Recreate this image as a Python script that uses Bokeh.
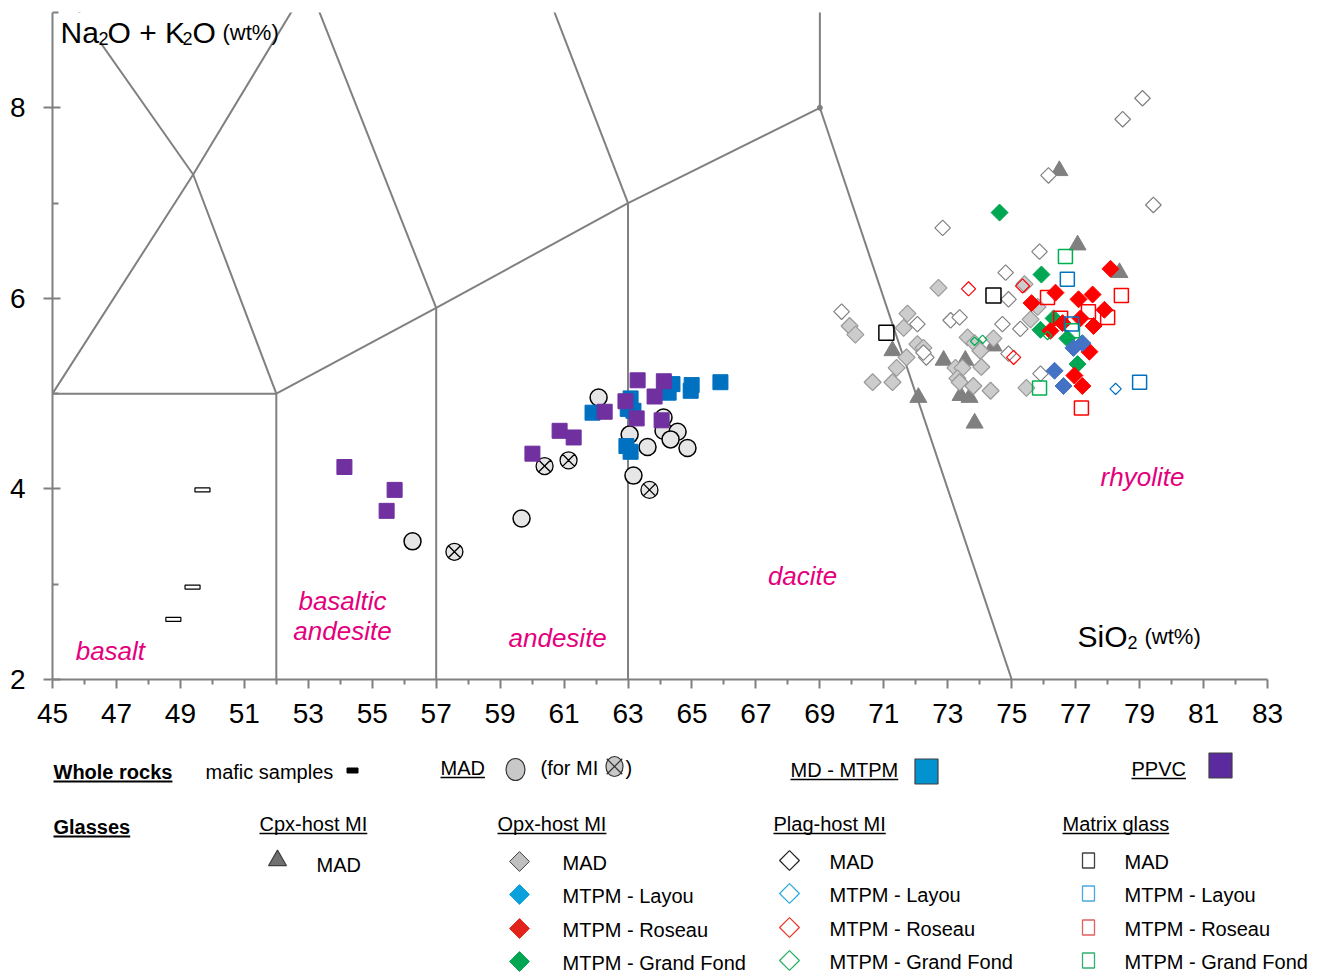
import math
from bokeh.plotting import figure
from bokeh.models import Range1d, FixedTicker
from bokeh.layouts import column
from bokeh.embed import file_html
from bokeh.resources import INLINE
from bokeh.core.properties import value

FONT = "Liberation Sans"
PINK = "#E4007C"
LINE = "#808080"

# ------------------------------------------------------------------ data
x_ticks = list(range(45, 84, 2))
x_minor = list(range(46, 83, 2))
y_ticks = [2, 4, 6, 8]
y_minor = [3, 5, 7, 9]

# TAS field boundaries (SiO2 wt%, Na2O+K2O wt%)
tas_xs = [[45, 52], [52, 52], [52, 57], [57, 57], [57, 63], [63, 63], [63, 69],
          [69, 77], [69, 69], [45, 49.4, 53], [52, 49.4, 45], [57, 53], [63, 57.6]]
tas_ys = [[5, 5], [0, 5], [5, 5.9], [0, 5.9], [5.9, 7], [0, 7], [7, 8],
          [8, 0], [8, 13], [5, 7.3, 9.3], [5, 7.3, 9.4], [5.9, 9.3], [7, 11.7]]

field_names = ["basalt", "basaltic", "andesite", "andesite", "dacite", "rhyolite"]
field_x = [46.81, 54.07, 54.07, 60.80, 68.46, 79.09]
field_y = [2.30, 2.82, 2.51, 2.44, 3.09, 4.12]

# Whole rocks
mafic_x = [49.69, 49.38, 48.78]
mafic_y = [3.99, 2.97, 2.63]

mad_x = [62.08, 63.05, 63.61, 64.11, 64.11, 64.55, 64.33, 64.86, 63.17, 59.67, 56.26]
mad_y = [4.96, 4.57, 4.44, 4.75, 4.61, 4.60, 4.52, 4.43, 4.14, 3.69, 3.45]

madmi_x = [60.39, 61.14, 63.67, 57.57]
madmi_y = [4.24, 4.30, 3.99, 3.34]

mtpm_x = [65.89, 64.96, 64.99, 64.39, 64.27, 63.08, 62.99, 63.17, 61.89, 62.95, 63.08]
mtpm_y = [5.12, 5.03, 5.09, 5.10, 5.01, 4.95, 4.84, 4.82, 4.80, 4.45, 4.39]

ppvc_x = [54.13, 55.70, 55.45, 60.01, 60.86, 61.30, 62.27, 63.30, 63.27, 63.83, 64.12, 64.05, 62.92]
ppvc_y = [4.23, 3.99, 3.77, 4.37, 4.61, 4.54, 4.81, 5.14, 4.74, 4.97, 5.13, 4.72, 4.92]

# Glasses
cpx_mad_x = [71.27, 72.08, 72.87, 73.55, 73.40, 73.68, 73.84, 74.43, 76.49, 77.06, 78.37]
cpx_mad_y = [5.45, 4.96, 5.35, 5.35, 4.98, 4.96, 4.69, 5.50, 7.34, 6.56, 6.27]

opx_mad_x = [72.71, 69.93, 70.11, 71.74, 71.62, 72.05, 72.24, 71.71, 71.40, 70.65, 71.27, 73.62, 73.84,
             74.02, 74.43, 74.05, 73.24, 73.46, 73.30, 73.37, 73.80, 74.34, 75.40, 75.59, 75.46, 75.81]
opx_mad_y = [6.11, 5.71, 5.62, 5.84, 5.69, 5.52, 5.48, 5.38, 5.27, 5.12, 5.12, 5.59, 5.53,
             5.45, 5.58, 5.28, 5.27, 5.27, 5.16, 5.12, 5.08, 5.03, 6.15, 5.78, 5.06, 5.91]

opx_lay_x = [76.34, 76.62, 77.21, 76.93]
opx_lay_y = [5.24, 5.08, 5.53, 5.48]
opx_ros_x = [75.62, 76.37, 77.09, 77.53, 77.90, 78.09, 77.15, 77.56, 76.21, 77.43, 76.96, 77.21, 76.59]
opx_ros_y = [5.95, 6.06, 5.99, 6.04, 5.88, 6.31, 5.79, 5.71, 5.66, 5.44, 5.19, 5.08, 5.74]
opx_gf_x = [74.62, 75.93, 75.90, 77.06, 76.31, 76.74]
opx_gf_y = [6.90, 6.25, 5.67, 5.31, 5.79, 5.58]

plag_mad_x = [69.68, 72.05, 72.33, 72.24, 73.09, 73.37, 72.84, 74.81, 74.90, 74.71, 75.27, 74.90,
              76.15, 79.43, 75.87, 75.90, 79.09, 78.47]
plag_mad_y = [5.86, 5.73, 5.38, 5.43, 5.77, 5.80, 6.74, 6.27, 5.99, 5.73, 5.68, 5.42,
              7.29, 6.98, 6.49, 5.21, 8.10, 7.88]
plag_lay_x = [78.25]
plag_lay_y = [5.05]
plag_ros_x = [73.65, 75.34, 75.06]
plag_ros_y = [6.10, 6.13, 5.38]
plag_gf_x = [73.84, 74.09, 76.12]
plag_gf_y = [5.55, 5.57, 5.61]

mg_mad_x = [71.08, 74.43]
mg_mad_y = [5.64, 6.03]
mg_lay_x = [76.74, 79.00, 76.87]
mg_lay_y = [6.20, 5.12, 5.73]
mg_ros_x = [78.43, 76.12, 77.40, 78.00, 76.53, 77.18]
mg_ros_y = [6.03, 6.01, 5.86, 5.80, 5.79, 4.85]
mg_gf_x = [76.68, 75.87, 76.90]
mg_gf_y = [6.44, 5.06, 5.66]

# ------------------------------------------------------------------ main plot
FL, FT, FW, FH = 52, 12, 1215, 667   # frame position on the page (px)
XMIN, XMAX, YMIN, YMAX = 45, 83, 2, 9
PAGE_W = 1322
TOP = 735  # page y where the legend panel starts


def X(px):
    return XMIN + (px - FL) * (XMAX - XMIN) / FW


def Y(py):
    return YMAX - (py - FT) * (YMAX - YMIN) / FH


p = figure(frame_width=FW, frame_height=FH,
           x_range=Range1d(XMIN, XMAX), y_range=Range1d(YMIN, YMAX),
           output_backend="svg", toolbar_location=None,
           min_border_left=FL, min_border_right=PAGE_W - FL - FW, min_border_top=FT,
           min_border_bottom=TOP - FT - FH)
p.grid.visible = False
p.outline_line_color = None
p.background_fill_color = "white"
p.border_fill_color = "white"

p.xaxis.ticker = FixedTicker(ticks=x_ticks, minor_ticks=x_minor)
p.yaxis.ticker = FixedTicker(ticks=y_ticks, minor_ticks=y_minor)
for ax in (p.xaxis[0], p.yaxis[0]):
    ax.axis_line_color = LINE
    ax.axis_line_width = 2
    ax.major_tick_line_color = LINE
    ax.major_tick_line_width = 2
    ax.minor_tick_line_color = LINE
    ax.minor_tick_line_width = 2
    ax.major_label_text_font = FONT
    ax.major_label_text_font_size = "28px"
    ax.major_label_text_color = "black"
p.xaxis.major_tick_out = 9
p.xaxis.major_tick_in = 0
p.xaxis.minor_tick_out = 5
p.xaxis.minor_tick_in = 0
p.xaxis.major_label_standoff = 15
p.yaxis.major_tick_out = 9
p.yaxis.major_tick_in = 8
p.yaxis.minor_tick_out = 0
p.yaxis.minor_tick_in = 6
p.yaxis.major_label_standoff = 18

# TAS boundaries
p.multi_line(tas_xs, tas_ys, line_color=LINE, line_width=2)
p.scatter([69], [8], size=5, marker="circle", fill_color=LINE, line_color=LINE)

# white box behind the y title
p.quad(left=X(55), right=X(270), top=Y(12), bottom=Y(42), fill_color="white", line_color=None)


def txt(s, px, py, size, style="normal", color="black", align="left", baseline="alphabetic"):
    p.text([X(px)], [Y(py)], text=[s], text_font=value(FONT), text_font_size=size,
           text_font_style=style, text_color=color, text_align=align, text_baseline=baseline)


# y title: Na2O + K2O (wt%)
txt("Na", 60, 32, "30px")
txt("2", 98, 38, "18px")
txt("O + K", 107, 32, "30px")
txt("2", 182, 38, "18px")
txt("O", 192, 32, "30px")
txt("(wt%)", 222, 32, "22px")
# x title: SiO2 (wt%)
txt("SiO", 1077, 636, "30px")
txt("2", 1127, 642, "18px")
txt("(wt%)", 1144, 636, "22px")

# field names
p.text(field_x, field_y, text=field_names, text_font=value(FONT), text_font_size="26px",
       text_font_style="italic", text_color=PINK, text_align="center", text_baseline="middle")

# whole rocks
p.rect(mafic_x, mafic_y, width=15, height=4, width_units="screen", height_units="screen",
       fill_color="white", line_color="black", line_width=1.2)
p.scatter(mad_x, mad_y, marker="circle", size=17, fill_color="#E6E6E6", line_color="black", line_width=1.5)
p.scatter(madmi_x, madmi_y, marker="circle_x", size=17, fill_color="#E6E6E6", line_color="black", line_width=1.3)
p.scatter(mtpm_x, mtpm_y, marker="square", size=15, fill_color="#0070C0", line_color="#0070C0")
p.scatter(ppvc_x, ppvc_y, marker="square", size=15, fill_color="#7030A0", line_color="#7030A0")

# glasses
D = math.pi / 4
p.scatter(cpx_mad_x, cpx_mad_y, marker="triangle", size=17, fill_color="#808080", line_color="#808080")
p.scatter(opx_mad_x, opx_mad_y, marker="square", angle=D, size=12, fill_color="#CCCCCC",
          line_color="#999999", line_width=1.2)
p.scatter(plag_mad_x, plag_mad_y, marker="square", angle=D, size=11, fill_color="white",
          line_color="#808080", line_width=1.2)
p.scatter(mg_mad_x, mg_mad_y, marker="square", size=15, fill_color=None, line_color="black", line_width=1.5)
p.scatter(opx_gf_x, opx_gf_y, marker="square", angle=D, size=12, fill_color="#00A651", line_color="#00A651")
p.scatter(opx_ros_x, opx_ros_y, marker="square", angle=D, size=12, fill_color="#FF0000", line_color="#FF0000")
p.scatter(opx_lay_x, opx_lay_y, marker="square", angle=D, size=12, fill_color="#4472C4", line_color="#4472C4")
p.scatter(plag_ros_x, plag_ros_y, marker="square", angle=D, size=10, fill_color=None, line_color="#FF0000", line_width=1.2)
p.scatter(plag_gf_x, plag_gf_y, marker="square", angle=D, size=6, fill_color=None, line_color="#00B050", line_width=1.2)
p.scatter(plag_lay_x, plag_lay_y, marker="square", angle=D, size=8, fill_color=None, line_color="#0070C0", line_width=1.2)
p.scatter(mg_ros_x, mg_ros_y, marker="square", size=14, fill_color=None, line_color="#FF0000", line_width=1.5)
p.scatter(mg_gf_x, mg_gf_y, marker="square", size=14, fill_color=None, line_color="#00B050", line_width=1.5)
p.scatter(mg_lay_x, mg_lay_y, marker="square", size=14, fill_color=None, line_color="#0070C0", line_width=1.5)

# ------------------------------------------------------------------ legend panel
# its frame is aligned with the main frame's left edge (x = FL) by the column layout;
# the x range is expressed in page pixels.
LH = 973 - TOP
q = figure(frame_width=PAGE_W - FL, frame_height=LH, x_range=Range1d(FL, PAGE_W), y_range=Range1d(LH, 0),
           output_backend="svg", toolbar_location=None, x_axis_location=None, y_axis_location=None,
           min_border_left=FL, min_border_right=0, min_border_top=0, min_border_bottom=0)
q.grid.visible = False
q.outline_line_color = None

REG = {' ': 278, '-': 333, '(': 333, ')': 333, 'A': 667, 'C': 722, 'D': 722, 'G': 778, 'I': 278,
       'L': 556, 'M': 833, 'O': 778, 'P': 667, 'R': 722, 'T': 611, 'V': 667, 'F': 611, 'a': 556,
       'c': 500, 'd': 556, 'e': 556, 'f': 278, 'g': 556, 'h': 556, 'i': 222, 'k': 500, 'l': 222,
       'm': 833, 'n': 556, 'o': 556, 'p': 556, 'r': 333, 's': 500, 't': 278, 'u': 556, 'x': 500,
       'y': 500}
BOLD = {' ': 278, 'G': 778, 'W': 944, 'a': 556, 'c': 556, 'e': 556, 'h': 611, 'k': 556, 'l': 278,
        'o': 611, 'r': 389, 's': 556}


def tw(s, size, bold=False):
    tab = BOLD if bold else REG
    return sum(tab.get(c, 556) for c in s) * size / 1000.0


def ltxt(s, px, py, bold=False, underline=False, size=20):
    y = py - TOP
    q.text([px], [y], text=[s], text_font=value(FONT), text_font_size=f"{size}px",
           text_font_style="bold" if bold else "normal", text_color="black",
           text_align="left", text_baseline="middle")
    if underline:
        q.segment([px], [y + 10], [px + tw(s, size, bold)], [y + 10], line_color="black",
                  line_width=2 if bold else 1.3)


def lmark(px, py, marker, size, fill, line, lw=1.2, angle=0.0):
    q.scatter([px], [py - TOP], marker=marker, size=size, fill_color=fill,
              line_color=line, line_width=lw, angle=angle)


ltxt("Whole rocks", 53, 771, bold=True, underline=True)
ltxt("mafic samples", 205, 771)
q.rect([352], [770 - TOP], width=11, height=5, fill_color="black", line_color="black")
ltxt("MAD", 440, 767, underline=True)
q.ellipse([515], [769 - TOP], width=19, height=22, fill_color="#C8C8C8", line_color="#333333", line_width=1.2)
ltxt("(for MI", 540, 767)
q.ellipse([614], [766 - TOP], width=17, height=20, fill_color="#C8C8C8", line_color="#333333", line_width=1.2)
lmark(614, 766, "x", 22, None, "#333333", lw=1.2)
ltxt(")", 625, 767)
ltxt("MD - MTPM", 790, 769, underline=True)
q.rect([926], [771 - TOP], width=23, height=25, fill_color="#0093D0", line_color="#404040", line_width=1.2)
ltxt("PPVC", 1131, 768, underline=True)
q.rect([1220], [765 - TOP], width=23, height=25, fill_color="#5B2A9E", line_color="#404040", line_width=1.2)

ltxt("Glasses", 53, 826, bold=True, underline=True)
ltxt("Cpx-host MI", 259, 823, underline=True)
ltxt("Opx-host MI", 497, 823, underline=True)
ltxt("Plag-host MI", 773, 823, underline=True)
ltxt("Matrix glass", 1062, 823, underline=True)

lmark(277, 860, "triangle", 18, "#707070", "#404040")
ltxt("MAD", 316, 864)

names = ["MAD", "MTPM - Layou", "MTPM - Roseau", "MTPM - Grand Fond"]
rows = [862, 895, 929, 962]
opx_cols = [("#C0C0C0", "#404040"), ("#0AA0DC", "#0AA0DC"), ("#E2231A", "#E2231A"), ("#00A651", "#00A651")]
plag_cols = ["#202020", "#28A8E0", "#E8352A", "#1FAF60"]
mg_cols = ["#404040", "#4AA8E0", "#E06060", "#30B070"]
for i, nm in enumerate(names):
    r = rows[i]
    f, l = opx_cols[i]
    lmark(519, r - 1, "square", 14, f, l, lw=1.0, angle=D)
    ltxt(nm, 562, r)
    lmark(789, r - 2, "square", 14, "white", plag_cols[i], lw=1.2, angle=D)
    ltxt(nm, 829, r - 1)
    q.rect([1088], [r - 2 - TOP], width=12, height=15, fill_color=None, line_color=mg_cols[i], line_width=1.3)
    ltxt(nm, 1124, r - 1)

layout = column(p, q, spacing=0)
open("out.html", "w").write(file_html(layout, INLINE))
